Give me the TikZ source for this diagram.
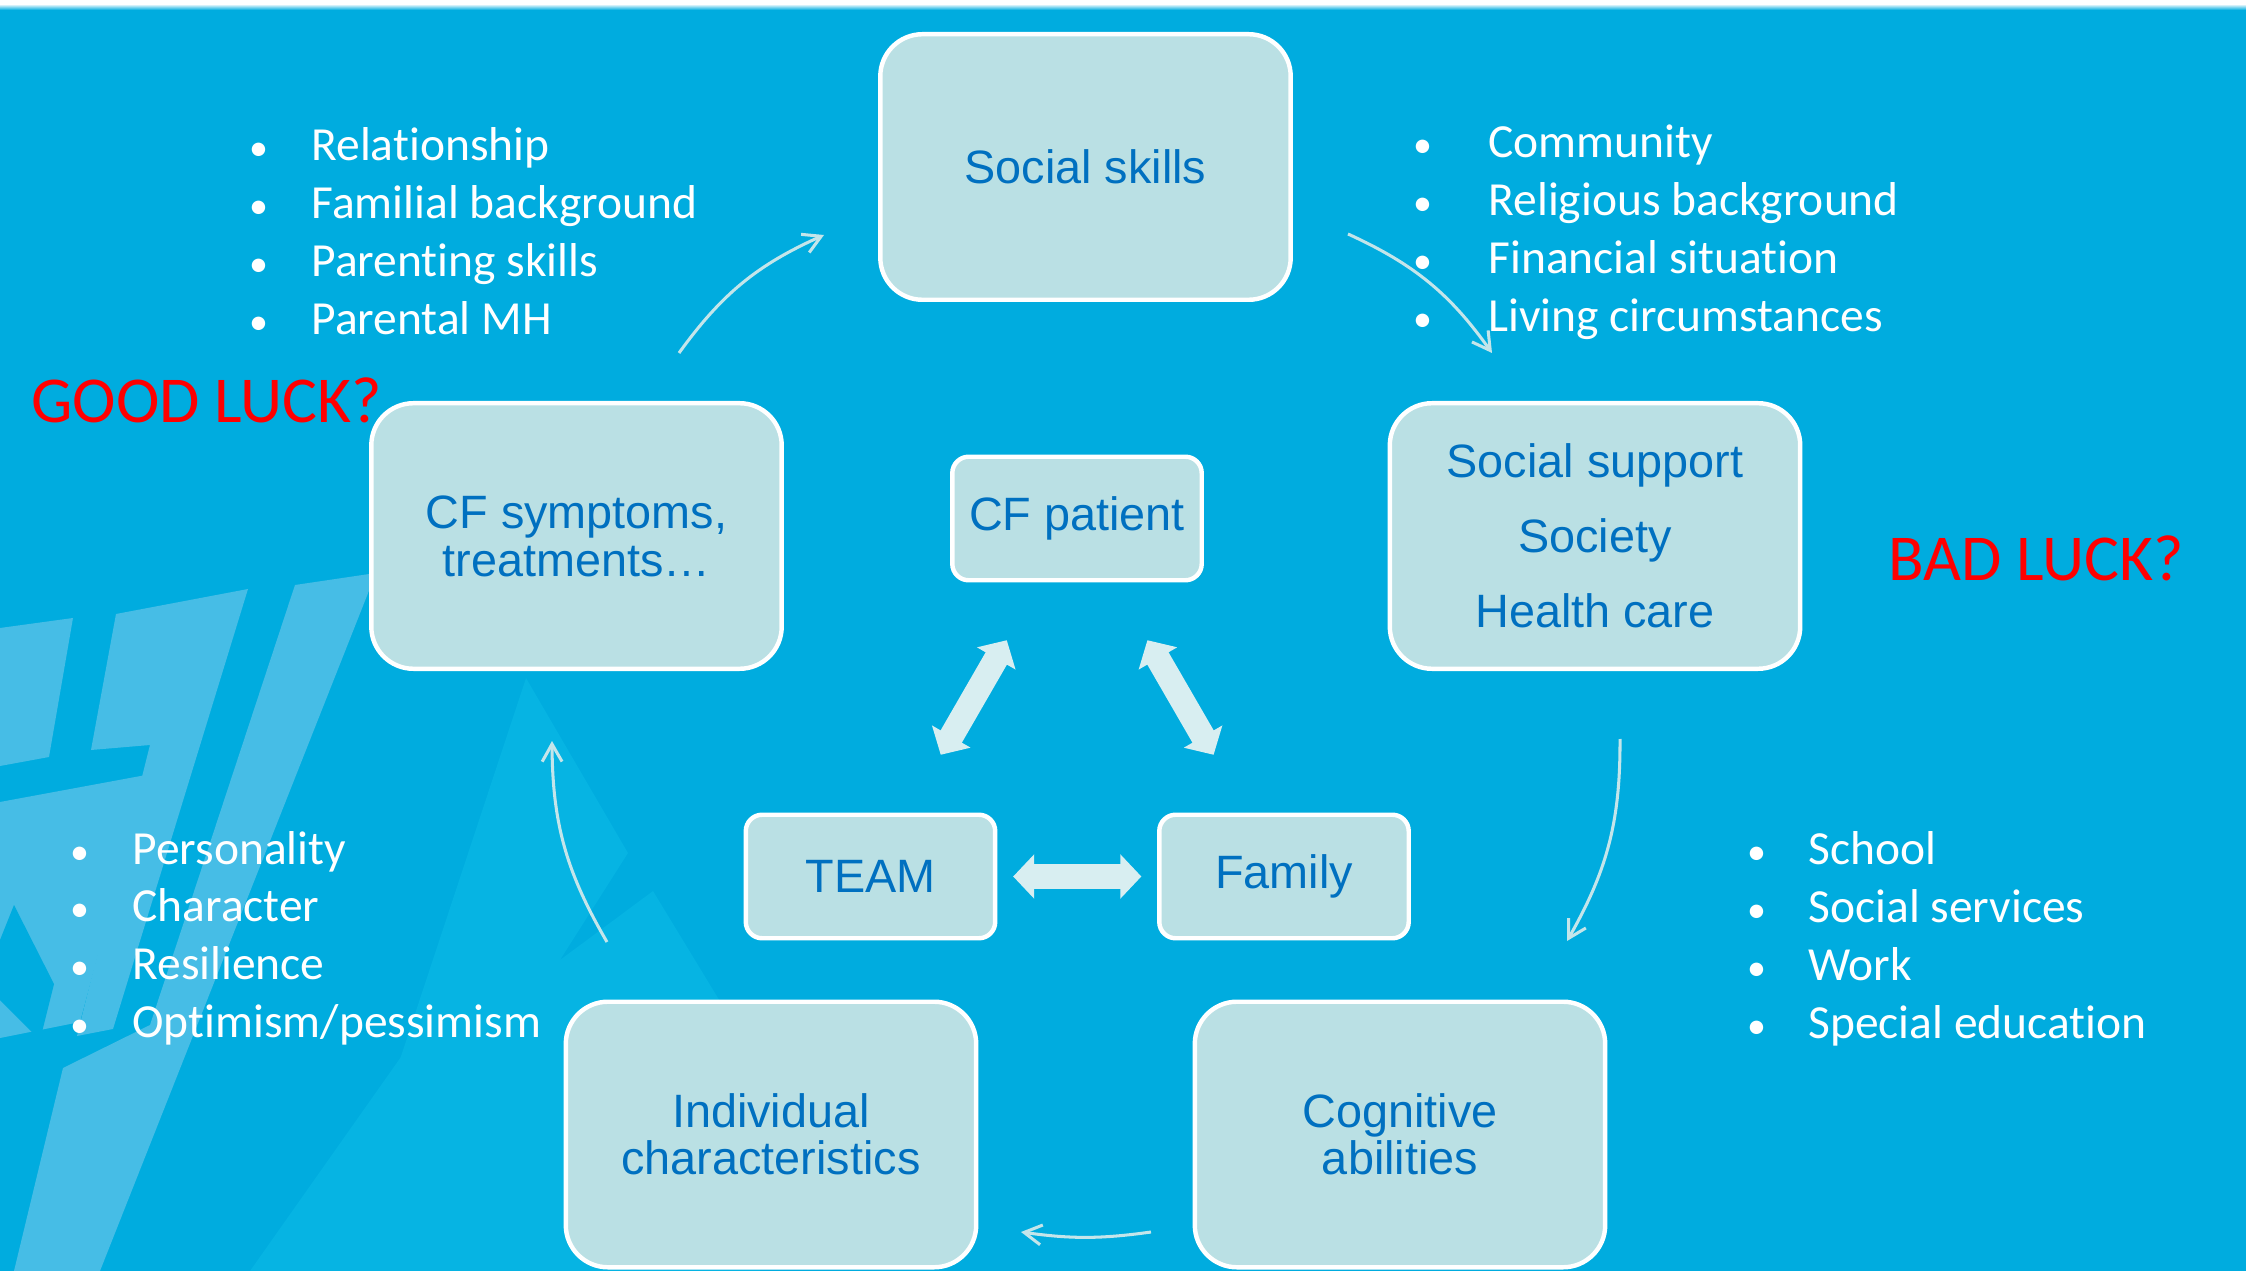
\documentclass[tikz,border=0pt]{standalone}
\usepackage{fontspec}
\setmainfont{Liberation Sans}
\newfontfamily\calib[Ligatures={NoCommon,NoContextual}, Contextuals=NoAlternate]{Carlito}
\usetikzlibrary{arrows.meta,calc}

\definecolor{bgblue}{RGB}{0,172,223}
\definecolor{bglight}{RGB}{70,189,230}
\definecolor{bgmtn}{RGB}{6,180,227}
\definecolor{boxfill}{RGB}{186,224,228}
\definecolor{boxtext}{RGB}{0,112,192}
\definecolor{blockarr}{RGB}{216,238,241}
\definecolor{thinarr}{RGB}{196,229,234}
\definecolor{luckred}{RGB}{255,0,0}

% bullet placed a fixed distance to the left of the item text
\newcommand\itembullet[1]{\llap{\makebox[0pt]{\scalebox{0.8}{\textbullet}}\hspace{#1}}}
% keep "t" and "i" as separate letters
\newcommand\ti{t\kern0pt i}

\begin{document}
\begin{tikzpicture}[x=0.4274pt,y=-0.4274pt,
  bigbox/.style={draw=white, line width=1.9pt, fill=boxfill, rounded corners=18pt,
    minimum width=175.4pt, minimum height=113.5pt, text=boxtext, align=center,
    inner sep=0pt, font=\fontsize{20}{20.5}\selectfont},
  smallbox/.style={bigbox, rounded corners=7pt, minimum width=106.6pt, minimum height=52.8pt},
  blockarrow/.style={draw=blockarr, line width=10.5pt, line cap=butt,
    {Triangle[length=9pt,width=18.5pt]}-{Triangle[length=9pt,width=18.5pt]}},
  flow/.style={draw=thinarr, line width=1.3pt, -{Straight Barb[length=7.5pt,width=8.5pt]}},
  itemtext/.style={text=white, font=\calib\fontsize{20.3}{24}\selectfont, anchor=base west, inner sep=0pt},
  luck/.style={text=luckred, font=\calib\fontsize{28}{30}\selectfont, anchor=base west, inner sep=0pt}
]
\useasboundingbox (0,0) rectangle (2246,1271);
\clip (0,0) rectangle (2246,1271);

% background
\fill[bgblue] (0,0) rectangle (2246,1271);
\fill[white] (0,0) rectangle (2246,4);
\shade[top color=white, bottom color=bgblue] (0,4) rectangle (2246,10);

% soft mountain shapes
\fill[bgmtn] (330,1271) -- (526,678) -- (628,853) -- (560,960) -- (653,891) -- (780,1100) -- (760,1271) -- cycle;
\fill[bgmtn] (250,1271) -- (506,908) -- (545,960) -- (470,1271) -- cycle;

% light stripes at the lower left
\fill[bglight] (0,628) -- (73,618) -- (49,757) -- (0,766) -- cycle;
\fill[bglight] (116,614) -- (248,589) -- (113,1029) -- (77,1036) -- (150,745) -- (91,750) -- cycle;
\fill[bglight] (0,802) -- (146,775) -- (80,1022) -- (0,1038) -- cycle;
\fill[bglight] (295,585) -- (376,573) -- (100,1271) -- (14,1271) -- (63,1068) -- (150,1025) -- cycle;
\fill[bgblue] (14,905) -- (54,984) -- (40,1040) -- (0,1000) -- (0,940) -- cycle;

% boxes
\node[bigbox] (social) at (1085.5,167) {Social skills};
\node[bigbox] (symptoms) at (576.5,536) {CF symptoms,\\treatments\ldots};
\node[bigbox, font=\fontsize{20}{32}\selectfont] (support) at (1595,536) {Social support\\Society\\Health care};
\node[bigbox, font=\fontsize{20}{20}\selectfont] (individual) at (771,1134.5) {Individual\\characteristics};
\node[bigbox, font=\fontsize{20}{20}\selectfont] (cognitive) at (1400,1134.5) {Cognitive\\abilities};
\node[smallbox] (patient) at (1077,518.5) {CF patient};
\node[smallbox] (team) at (870.5,876.5) {TEAM};
\node[smallbox] (family) at (1284,876.5) {Family};

% two-way links around the patient
\draw[blockarrow] ($(patient)!0.34!(team)$) -- ($(patient)!0.66!(team)$);
\draw[blockarrow] ($(patient)!0.34!(family)$) -- ($(patient)!0.66!(family)$);
\draw[blockarrow] ($(team)!0.345!(family)$) -- ($(team)!0.655!(family)$);

% cycle of influences
\coordinate (f1a) at (679,353);   \coordinate (f1b) at (824,235);
\coordinate (f2a) at (1348,234);  \coordinate (f2b) at (1492,353);
\coordinate (f3a) at (1620,739);  \coordinate (f3b) at (1567,941);
\coordinate (f4a) at (1151,1232); \coordinate (f4b) at (1021,1232);
\coordinate (f5a) at (607,942);   \coordinate (f5b) at (552,741);
\draw[flow] (f1a) to[bend left=15] (f1b);
\draw[flow] (f2a) to[bend left=15] (f2b);
\draw[flow] (f3a) to[bend left=15] (f3b);
\draw[flow] (f4a) to[bend left=8] (f4b);
\draw[flow] (f5a) to[bend left=15] (f5b);

% item lists
\foreach \t [count=\i] in {Relationship, Familial background, Paren\ti ng skills, Parental MH}
  \node[itemtext] (tl\i) at (311,{161+58*(\i-1)}) {\itembullet{22.65pt}\t};
\foreach \t [count=\i] in {Community, Religious background, Financial situa\ti on, Living circumstances}
  \node[itemtext] (tr\i) at (1488,{158+58*(\i-1)}) {\itembullet{28.2pt}\t};
\foreach \t [count=\i] in {Personality, Character, Resilience, Optimism/pessimism}
  \node[itemtext] (bl\i) at (132,{864+57.7*(\i-1)}) {\itembullet{22.65pt}\t};
\foreach \t [count=\i] in {School, Social services, Work, Special educa\ti on}
  \node[itemtext] (br\i) at (1808,{864+58*(\i-1)}) {\itembullet{22.2pt}\t};

% luck labels
\node[luck] (good) at (31,423) {GOOD LUCK?};
\node[luck] (bad) at (1888,581) {BAD LUCK?};
\end{tikzpicture}
\end{document}
